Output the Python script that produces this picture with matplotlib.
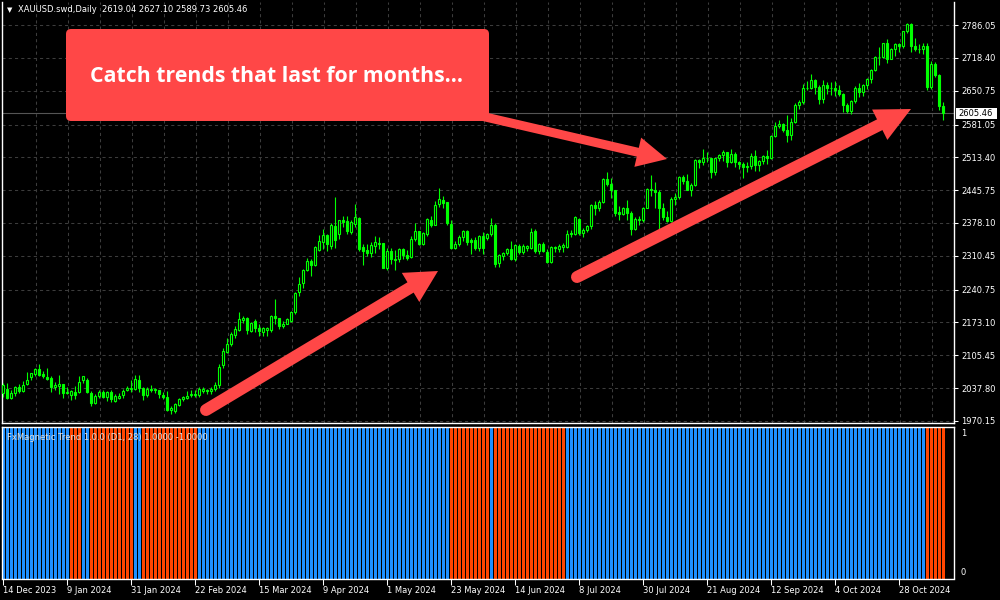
import matplotlib
matplotlib.use('Agg')
import matplotlib.pyplot as plt
from matplotlib.patches import FancyBboxPatch, Polygon, Rectangle
from matplotlib.lines import Line2D
import numpy as np

# ---------------- data ----------------
opens = [2027, 2037, 2017, 2027, 2041, 2031, 2047, 2061, 2067, 2078,
         2066, 2061, 2058, 2041, 2043, 2046, 2029, 2024, 2029, 2029,
         2055, 2055, 2027, 2007, 2022, 2029, 2020, 2029, 2012, 2018,
         2024, 2033, 2037, 2037, 2055, 2039, 2024, 2036, 2034, 2034,
         2024, 2019, 1993, 1991, 2003, 2015, 2017, 2024, 2026, 2024,
         2032, 2033, 2031, 2036, 2044, 2085, 2113, 2129, 2147, 2158,
         2178, 2182, 2156, 2176, 2161, 2154, 2158, 2158, 2187, 2182,
         2165, 2171, 2177, 2194, 2236, 2254, 2281, 2300, 2291, 2322,
         2338, 2353, 2331, 2372, 2355, 2384, 2382, 2360, 2377, 2388,
         2328, 2322, 2316, 2331, 2336, 2336, 2286, 2320, 2304, 2303,
         2324, 2313, 2309, 2345, 2362, 2335, 2356, 2384, 2375, 2417,
         2425, 2421, 2377, 2327, 2334, 2350, 2362, 2343, 2343, 2327,
         2352, 2347, 2355, 2375, 2295, 2311, 2316, 2324, 2303, 2331,
         2319, 2326, 2327, 2362, 2320, 2334, 2319, 2297, 2328, 2324,
         2329, 2329, 2358, 2355, 2386, 2358, 2364, 2372, 2415, 2410,
         2422, 2468, 2458, 2446, 2401, 2397, 2408, 2398, 2365, 2387,
         2384, 2410, 2448, 2446, 2443, 2410, 2390, 2382, 2427, 2431,
         2472, 2465, 2447, 2456, 2507, 2504, 2513, 2512, 2484, 2512,
         2518, 2524, 2504, 2521, 2503, 2500, 2493, 2495, 2517, 2497,
         2506, 2516, 2512, 2558, 2578, 2582, 2569, 2559, 2587, 2622,
         2628, 2657, 2657, 2672, 2658, 2634, 2662, 2657, 2656, 2653,
         2644, 2622, 2608, 2630, 2657, 2649, 2663, 2674, 2693, 2721,
         2720, 2749, 2717, 2736, 2747, 2743, 2774, 2788, 2743, 2736,
         2736, 2742, 2659, 2706, 2684, 2619.04]
highs = [2048, 2048, 2033, 2043, 2047, 2052, 2071, 2070, 2079, 2088,
         2073, 2079, 2062, 2050, 2064, 2047, 2040, 2034, 2043, 2063,
         2062, 2058, 2031, 2025, 2035, 2033, 2031, 2035, 2025, 2027,
         2036, 2043, 2055, 2065, 2065, 2040, 2040, 2044, 2038, 2035,
         2029, 2031, 2000, 2007, 2018, 2022, 2031, 2035, 2034, 2041,
         2040, 2036, 2040, 2050, 2088, 2120, 2141, 2153, 2165, 2195,
         2186, 2185, 2175, 2180, 2170, 2163, 2164, 2189, 2222, 2183,
         2176, 2183, 2196, 2235, 2266, 2284, 2305, 2304, 2330, 2354,
         2365, 2356, 2378, 2432, 2385, 2392, 2393, 2385, 2418, 2391,
         2334, 2335, 2338, 2352, 2350, 2337, 2326, 2327, 2323, 2327,
         2327, 2322, 2351, 2378, 2362, 2359, 2389, 2393, 2423, 2450,
         2433, 2422, 2385, 2340, 2353, 2364, 2364, 2347, 2350, 2354,
         2359, 2358, 2388, 2378, 2314, 2318, 2326, 2342, 2334, 2335,
         2335, 2333, 2368, 2365, 2336, 2338, 2324, 2330, 2331, 2335,
         2336, 2364, 2364, 2393, 2388, 2368, 2375, 2418, 2424, 2425,
         2470, 2484, 2470, 2446, 2413, 2412, 2425, 2403, 2390, 2392,
         2412, 2451, 2477, 2462, 2447, 2420, 2402, 2432, 2440, 2475,
         2477, 2479, 2461, 2509, 2510, 2531, 2525, 2513, 2512, 2520,
         2528, 2525, 2531, 2525, 2505, 2504, 2503, 2523, 2529, 2507,
         2518, 2529, 2560, 2586, 2590, 2585, 2600, 2595, 2625, 2631,
         2664, 2670, 2685, 2674, 2663, 2672, 2669, 2669, 2670, 2663,
         2646, 2625, 2632, 2661, 2666, 2665, 2676, 2696, 2722, 2740,
         2749, 2758, 2739, 2749, 2748, 2774, 2790, 2790, 2760, 2746,
         2750, 2749, 2711, 2710, 2685, 2627.10]
lows = [2020, 2015, 2016, 2022, 2028, 2030, 2045, 2055, 2062, 2062,
        2058, 2055, 2030, 2034, 2025, 2017, 2025, 2013, 2015, 2028,
        2048, 2028, 2002, 2005, 2018, 2017, 2012, 2010, 2010, 2016,
        2017, 2031, 2030, 2035, 2030, 2014, 2019, 2030, 2027, 2017,
        2016, 1990, 1984, 1987, 2000, 2011, 2015, 2020, 2020, 2020,
        2027, 2025, 2025, 2032, 2039, 2080, 2111, 2125, 2142, 2155,
        2173, 2150, 2154, 2154, 2146, 2146, 2145, 2153, 2170, 2160,
        2162, 2170, 2175, 2190, 2228, 2244, 2279, 2268, 2290, 2320,
        2325, 2320, 2325, 2326, 2345, 2370, 2355, 2355, 2370, 2320,
        2291, 2311, 2309, 2316, 2325, 2285, 2282, 2294, 2281, 2298,
        2304, 2302, 2306, 2340, 2332, 2333, 2352, 2370, 2373, 2412,
        2408, 2374, 2325, 2325, 2330, 2341, 2332, 2315, 2322, 2320,
        2315, 2343, 2352, 2287, 2287, 2301, 2312, 2302, 2300, 2315,
        2315, 2321, 2325, 2316, 2315, 2318, 2295, 2296, 2319, 2318,
        2318, 2326, 2350, 2353, 2353, 2350, 2360, 2366, 2395, 2402,
        2420, 2455, 2430, 2393, 2385, 2394, 2385, 2353, 2364, 2374,
        2380, 2408, 2434, 2410, 2364, 2385, 2380, 2380, 2415, 2427,
        2458, 2446, 2433, 2455, 2492, 2498, 2504, 2470, 2476, 2505,
        2505, 2494, 2502, 2493, 2489, 2471, 2484, 2490, 2485, 2485,
        2500, 2500, 2510, 2555, 2574, 2565, 2546, 2550, 2585, 2614,
        2624, 2652, 2655, 2644, 2624, 2625, 2643, 2641, 2639, 2640,
        2606, 2605, 2603, 2625, 2637, 2640, 2654, 2667, 2691, 2704,
        2718, 2708, 2717, 2722, 2731, 2738, 2770, 2730, 2733, 2728,
        2727, 2652, 2654, 2678, 2610, 2589.73]
closes = [2044, 2017, 2027, 2041, 2031, 2044, 2055, 2068, 2077, 2064,
          2062, 2056, 2041, 2044, 2046, 2028, 2027, 2031, 2024, 2050,
          2062, 2029, 2007, 2022, 2029, 2020, 2029, 2015, 2022, 2022,
          2032, 2039, 2039, 2057, 2039, 2024, 2037, 2034, 2036, 2025,
          2019, 1993, 1996, 2005, 2015, 2020, 2022, 2026, 2024, 2036,
          2036, 2031, 2036, 2044, 2082, 2114, 2129, 2149, 2159, 2180,
          2183, 2158, 2173, 2161, 2156, 2161, 2161, 2187, 2182, 2165,
          2171, 2180, 2194, 2233, 2252, 2281, 2300, 2292, 2328, 2340,
          2353, 2334, 2373, 2344, 2384, 2381, 2361, 2381, 2390, 2324,
          2321, 2316, 2333, 2338, 2334, 2286, 2320, 2303, 2301, 2324,
          2312, 2307, 2346, 2361, 2334, 2357, 2386, 2375, 2415, 2427,
          2420, 2379, 2327, 2334, 2350, 2362, 2338, 2338, 2327, 2351,
          2326, 2355, 2375, 2294, 2312, 2316, 2324, 2303, 2333, 2319,
          2331, 2331, 2359, 2320, 2334, 2320, 2297, 2328, 2326, 2331,
          2333, 2355, 2355, 2390, 2358, 2364, 2372, 2415, 2410, 2422,
          2468, 2458, 2446, 2399, 2397, 2410, 2399, 2365, 2387, 2384,
          2410, 2448, 2446, 2443, 2410, 2390, 2382, 2427, 2431, 2472,
          2465, 2447, 2456, 2507, 2504, 2513, 2512, 2484, 2512, 2518,
          2524, 2504, 2521, 2503, 2500, 2493, 2495, 2517, 2497, 2506,
          2516, 2512, 2558, 2578, 2582, 2569, 2559, 2587, 2622, 2628,
          2657, 2657, 2672, 2658, 2634, 2662, 2657, 2656, 2653, 2644,
          2622, 2608, 2630, 2657, 2649, 2663, 2674, 2693, 2721, 2720,
          2749, 2717, 2736, 2747, 2743, 2774, 2788, 2743, 2736, 2736,
          2742, 2659, 2706, 2684, 2619, 2605.46]

# FxMagnetic Trend state per bar: 1 = up (blue), -1 = down (orange)
trend = [1, 1, 1, 1, 1, 1, 1, 1, 1, 1, 1, 1, 1, 1, 1, 1, 1, -1, -1, -1,
         1, 1, -1, -1, -1, -1, -1, -1, -1, -1, -1, -1, -1, 1, 1, -1, -1, -1, -1, -1,
         -1, -1, -1, -1, -1, -1, -1, -1, -1, 1, 1, 1, 1, 1, 1, 1, 1, 1, 1, 1,
         1, 1, 1, 1, 1, 1, 1, 1, 1, 1, 1, 1, 1, 1, 1, 1, 1, 1, 1, 1,
         1, 1, 1, 1, 1, 1, 1, 1, 1, 1, 1, 1, 1, 1, 1, 1, 1, 1, 1, 1,
         1, 1, 1, 1, 1, 1, 1, 1, 1, 1, 1, 1, -1, -1, -1, -1, -1, -1, -1, -1,
         -1, -1, 1, -1, -1, -1, -1, -1, -1, -1, -1, -1, -1, -1, -1, -1, -1, -1, -1, -1,
         -1, 1, 1, 1, 1, 1, 1, 1, 1, 1, 1, 1, 1, 1, 1, 1, 1, 1, 1, 1,
         1, 1, 1, 1, 1, 1, 1, 1, 1, 1, 1, 1, 1, 1, 1, 1, 1, 1, 1, 1,
         1, 1, 1, 1, 1, 1, 1, 1, 1, 1, 1, 1, 1, 1, 1, 1, 1, 1, 1, 1,
         1, 1, 1, 1, 1, 1, 1, 1, 1, 1, 1, 1, 1, 1, 1, 1, 1, 1, 1, 1,
         1, 1, 1, 1, 1, 1, 1, 1, 1, 1, 1, -1, -1, -1, -1, -1]

date_labels = ['14 Dec 2023', '9 Jan 2024', '31 Jan 2024', '22 Feb 2024',
               '15 Mar 2024', '9 Apr 2024', '1 May 2024', '23 May 2024',
               '14 Jun 2024', '8 Jul 2024', '30 Jul 2024', '21 Aug 2024',
               '12 Sep 2024', '4 Oct 2024', '28 Oct 2024']
price_ticks = [2786.05, 2718.40, 2650.75, 2581.05, 2513.40, 2445.75, 2378.10,
               2310.45, 2240.75, 2173.10, 2105.45, 2037.80, 1970.15]
last_price = 2605.46
symbol_title = "XAUUSD.swd,Daily  2619.04 2627.10 2589.73 2605.46"
indicator_title = "FxMagnetic Trend 1.0.0 (D1, 28) 1.0000 -1.0000"
callout_text = "Catch trends that last for months..."

# ---------------- styles ----------------
BG = 'black'
CANDLE = '#00FF00'
GRID = '#3c3c3c'
UP_COL = '#1E90FF'
DN_COL = '#FF4500'
RED = '#FF4747'
FONT = 'DejaVu Sans'
FS = 6.0

W, H = 1000, 600
fig = plt.figure(figsize=(10, 6), dpi=100, facecolor=BG)


def fx(px):
    return px / W


def fy(py):
    return 1 - py / H


ax = fig.add_axes([fx(2), fy(423), fx(954) - fx(2), fy(1.5) - fy(423)])
ax2 = fig.add_axes([fx(2), fy(578.5), fx(954) - fx(2), fy(426.7) - fy(578.5)])
for a in (ax, ax2):
    a.set_facecolor(BG)
    a.set_xlim(-0.25, 237.75)

n = len(closes)
idx = np.arange(n)
o = np.array(opens, float)
h = np.array(highs, float)
l = np.array(lows, float)
c = np.array(closes, float)

# price scale: 2.0604 per pixel, 2786.05 at y=25
ax.set_ylim(1966.0, 2834.5)

# grid
for p in price_ticks:
    ax.axhline(p, color=GRID, lw=0.75, ls=(0, (3, 3)), zorder=1)
for k in range(8, n, 8):
    ax.axvline(k + 0.15, color=GRID, lw=0.75, ls=(0, (3, 3)), zorder=1)

# last price line
ax.axhline(last_price, color='#555555', lw=0.8, zorder=2)

# candles
ax.vlines(idx, l, h, color=CANDLE, lw=0.8, zorder=3)
bull = c >= o
lo = np.minimum(o, c)
hh = np.abs(c - o)
ax.bar(idx[bull], hh[bull], bottom=lo[bull], width=0.5, facecolor='black',
       edgecolor=CANDLE, linewidth=0.8, zorder=4)
ax.bar(idx[~bull], hh[~bull], bottom=lo[~bull], width=0.5, facecolor=CANDLE,
       edgecolor=CANDLE, linewidth=0.8, zorder=4)

# axes styling main
ax.set_xticks([])
ax.yaxis.tick_right()
ax.set_yticks(price_ticks)
ax.set_yticklabels([f'{p:.2f}' for p in price_ticks], fontfamily=FONT)
ax.tick_params(axis='y', colors='white', labelsize=FS, length=3, width=0.75, pad=2)
for s in ('left', 'right', 'bottom'):
    ax.spines[s].set_color('white')
    ax.spines[s].set_linewidth(1.0)
ax.spines['top'].set_visible(False)

# indicator pane
ylo, yhi = -0.047, 1.045
tr = np.array(trend)
cols = [UP_COL if t > 0 else DN_COL for t in tr]
ax2.bar(idx, np.abs(tr) * (yhi - ylo), bottom=ylo, width=0.75, color=cols, zorder=2)
ax2.set_ylim(ylo, yhi)
ax2.yaxis.tick_right()
ax2.set_yticks([0, 1])
ax2.set_yticklabels(['0', '1'], fontfamily=FONT)
ax2.tick_params(axis='y', colors='white', labelsize=FS, length=0, pad=5)
ax2.set_xticks(np.arange(0, n, 16)[:len(date_labels)])
ax2.set_xticklabels(date_labels, fontfamily=FONT)
for t in ax2.get_xticklabels():
    t.set_ha('left')
ax2.tick_params(axis='x', colors='white', labelsize=FS, length=4, width=0.75, pad=1.5)
for s in ax2.spines.values():
    s.set_color('white')
    s.set_linewidth(1.0)

# titles
fig.text(fx(7), fy(10), '\u25BC', color='white', fontsize=5, va='center', ha='left',
         fontfamily=FONT)
fig.text(fx(18), fy(10), symbol_title, color='white', fontsize=FS, va='center',
         ha='left', fontfamily=FONT)
fig.text(fx(7), fy(437), indicator_title, color='#e0e0e0', fontsize=FS, va='center',
         ha='left', fontfamily=FONT, zorder=10)

# last price label box
fig.patches.append(Rectangle((fx(956), fy(119)), fx(997) - fx(956), fy(108) - fy(119),
                             transform=fig.transFigure, facecolor='white',
                             edgecolor='none', zorder=5))
fig.text(fx(958), fy(113.5), f'{last_price:.2f}', color='black', fontsize=FS,
         va='center', ha='left', fontfamily=FONT, zorder=6)

# ---------------- annotations (pixel geometry -> inches) ----------------
T = fig.dpi_scale_trans


def pin(px, py):
    return (px / 100.0, (H - py) / 100.0)


def arrow(tail, tip, lw_px, head_len, head_half):
    tx, ty = tail
    hx, hy = tip
    d = np.array([hx - tx, hy - ty], float)
    d /= np.linalg.norm(d)
    perp = np.array([-d[1], d[0]])
    back = np.array([hx, hy]) - head_len * d
    p1 = back + head_half * perp
    p2 = back - head_half * perp
    x0, y0 = pin(tx, ty)
    x1, y1 = pin(*(back + 2 * d))
    fig.add_artist(Line2D([x0, x1], [y0, y1], transform=T, color=RED,
                          lw=lw_px * 0.72, solid_capstyle='round', zorder=20))
    fig.add_artist(Polygon([pin(hx, hy), pin(*p1), pin(*p2)], closed=True,
                           transform=T, facecolor=RED, edgecolor='none', zorder=21))


arrow((206, 410), (438, 271), 12, 32, 17)
arrow((577, 277), (911, 109), 12, 35, 17)
arrow((455, 110), (667, 159), 9, 30, 15)

bx0, by0 = pin(66, 121)
bx1, by1 = pin(489, 29)
fig.add_artist(FancyBboxPatch((bx0, by0), bx1 - bx0, by1 - by0,
                              boxstyle='round,pad=0,rounding_size=0.05',
                              transform=T, facecolor=RED, edgecolor='none', zorder=22))
fig.text(fx(277), fy(76), callout_text, color='white', fontsize=15.3, fontweight='bold',
         fontfamily='Open Sans', ha='center', va='center', zorder=23)

fig.savefig('out.png', dpi=100, facecolor=BG)
